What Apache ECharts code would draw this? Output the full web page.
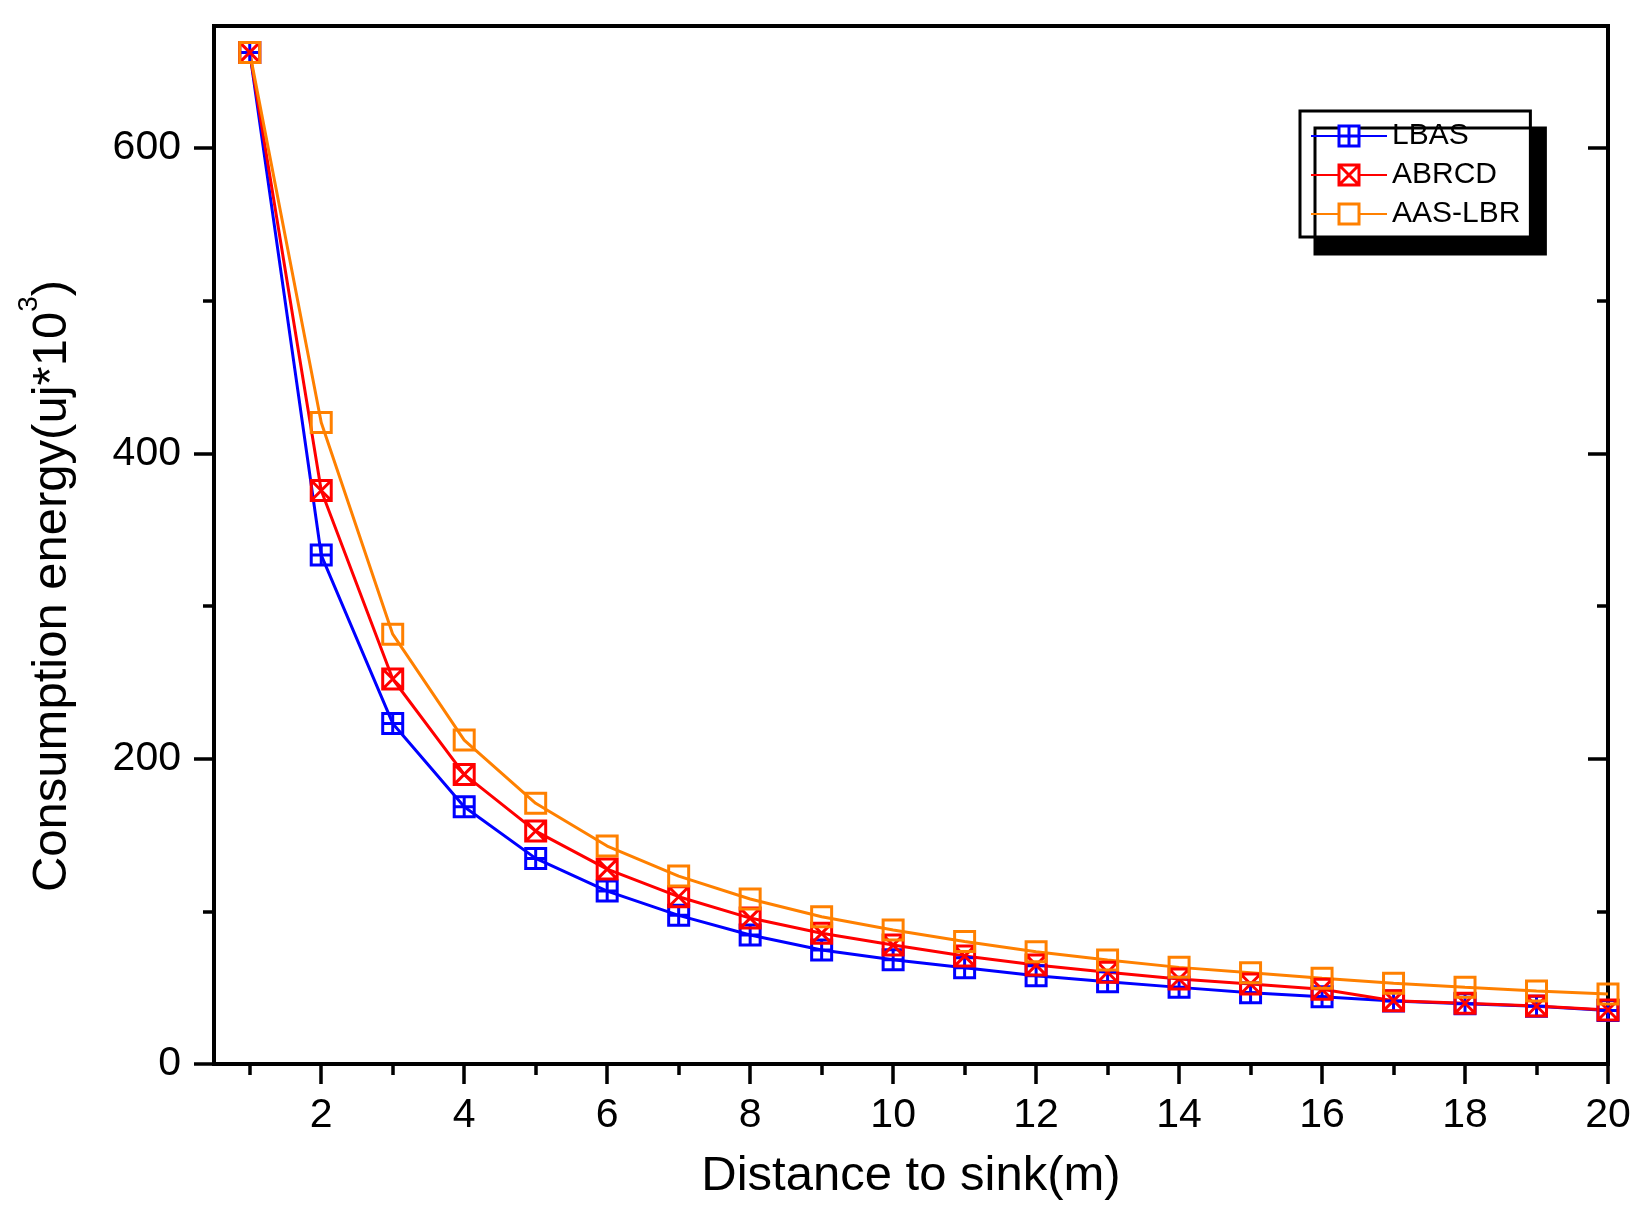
<!DOCTYPE html>
<html>
<head>
<meta charset="utf-8">
<title>Consumption energy vs distance to sink</title>
<script src="https://cdn.jsdelivr.net/npm/echarts@6.0.0/dist/echarts.min.js"></script>
<style>
  html, body { margin: 0; padding: 0; background: #fff; }
  #chart { width: 1650px; height: 1214px; }
</style>
</head>
<body>
<div id="chart"></div>
<script>
// distance to sink (m)
var distance = [1, 2, 3, 4, 5, 6, 7, 8, 9, 10, 11, 12, 13, 14, 15, 16, 17, 18, 19, 20]

// consumption energy (uj*10^3)
var lbas = [662.7, 333.4, 223.1, 168.5, 134.7, 113.3, 97.4, 84.5, 74.7, 68.3,
  63.1, 57.8, 53.9, 50.2, 46.7, 44.1, 41.2, 39.5, 37.8, 35.1]
var abrcd = [662.7, 375.7, 252.2, 189.7, 152.6, 127.7, 109.6, 95.6, 85.6, 77.9,
  70.7, 64.8, 60.1, 55.7, 52.4, 48.9, 41.5, 39.8, 38.0, 35.4]
var aasLbr = [662.7, 420.3, 281.6, 212.2, 170.8, 142.8, 123.1, 108.1, 96.5, 87.8,
  80.2, 73.6, 68.1, 63.3, 59.8, 56.1, 52.9, 50.2, 47.8, 45.9]

// ticks
var xMajor = [2, 4, 6, 8, 10, 12, 14, 16, 18, 20]
var xMinor = [1, 3, 5, 7, 9, 11, 13, 15, 17, 19]
var yMajor = [0, 200, 400, 600]
var yMinor = [100, 300, 500]

var FONT = '"Liberation Sans", Arial, sans-serif'

function pairs (ys) {
  return distance.map(function (x, i) { return [x, ys[i]] })
}

// one axis: only ticks (and maybe labels) at the given values
function xAxisOf (pos, ticks, len, inside, labels) {
  return {
    type: 'value', position: pos, min: 0.5, max: 20,
    axisLine: { show: false },
    splitLine: { show: false },
    axisTick: { show: true, inside: inside, length: len, customValues: ticks,
      lineStyle: { color: '#000', width: 3.5 } },
    axisLabel: labels
      ? { show: true, customValues: ticks, margin: 31, fontSize: 41, color: '#000', fontFamily: FONT }
      : { show: false }
  }
}
function yAxisOf (pos, ticks, len, inside, labels) {
  return {
    type: 'value', position: pos, min: 0, max: 680,
    axisLine: { show: false },
    splitLine: { show: false },
    axisTick: { show: true, inside: inside, length: len, customValues: ticks,
      lineStyle: { color: '#000', width: 3.5 } },
    axisLabel: labels
      ? { show: true, customValues: ticks, margin: 33, fontSize: 41, color: '#000', fontFamily: FONT }
      : { show: false }
  }
}

var xAxes = [
  xAxisOf('bottom', xMajor, 20, false, true),
  xAxisOf('bottom', xMinor, 11, false, false),
  xAxisOf('top', xMajor, 20, true, false),
  xAxisOf('top', xMinor, 11, true, false)
]
xAxes[0].name = 'Distance to sink(m)'
xAxes[0].nameLocation = 'middle'
xAxes[0].nameGap = 88
xAxes[0].nameTextStyle = { fontSize: 49, color: '#000', fontFamily: FONT }

var yAxes = [
  yAxisOf('left', yMajor, 20, false, true),
  yAxisOf('left', yMinor, 11, false, false),
  yAxisOf('right', yMajor, 20, true, false),
  yAxisOf('right', yMinor, 11, true, false)
]
yAxes[0].name = '{a|Consumption energy(uj*10}{sup|3}{a|)}'
yAxes[0].nameLocation = 'middle'
yAxes[0].nameGap = 125
yAxes[0].nameTextStyle = {
  color: '#000', fontFamily: FONT, padding: [0, 82, 0, 0],
  rich: {
    a: { fontSize: 49, color: '#000', fontFamily: FONT },
    sup: { fontSize: 28, color: '#000', fontFamily: FONT, padding: [0, 0, 46, 0] }
  }
}

var SYM_PLUS = 'path://M0,0L20,0L20,20L0,20Z M10,0L10,20 M0,10L20,10'
var SYM_CROSS = 'path://M0,0L20,0L20,20L0,20Z M0,0L20,20 M20,0L0,20'
var SYM_BOX = 'path://M0,0L20,0L20,20L0,20Z'

function lineSeries (name, ys, color, symbol) {
  return {
    name: name,
    type: 'line',
    data: pairs(ys),
    symbol: symbol,
    symbolSize: 20,
    lineStyle: { color: color, width: 3 },
    itemStyle: { color: 'rgba(255,255,255,0)', borderColor: color, borderWidth: 3 },
    emphasis: { disabled: true }
  }
}

var chart = echarts.init(document.getElementById('chart'))
chart.setOption({
  animation: false,
  backgroundColor: '#fff',
  grid: {
    left: 214, right: 42, top: 26, bottom: 150,
    show: true, borderColor: '#000', borderWidth: 4, backgroundColor: 'transparent'
  },
  legend: {
    left: 1300, top: 111, orient: 'vertical',
    padding: [10, 10, 8, 10],
    itemWidth: 76, itemHeight: 25, itemGap: 9,
    backgroundColor: '#fff', borderColor: '#000', borderWidth: 3,
    shadowColor: '#000', shadowBlur: 0, shadowOffsetX: 15, shadowOffsetY: 17,
    textStyle: { fontSize: 30, color: '#000', fontFamily: FONT },
    itemStyle: { color: '#fff', borderWidth: 3 },
    lineStyle: { width: 2 },
    data: ['LBAS', 'ABRCD', 'AAS-LBR']
  },
  xAxis: xAxes,
  yAxis: yAxes,
  series: [
    lineSeries('LBAS', lbas, '#0000ff', SYM_PLUS),
    lineSeries('ABRCD', abrcd, '#ff0000', SYM_CROSS),
    lineSeries('AAS-LBR', aasLbr, '#ff8000', SYM_BOX)
  ]
})
</script>
</body>
</html>
